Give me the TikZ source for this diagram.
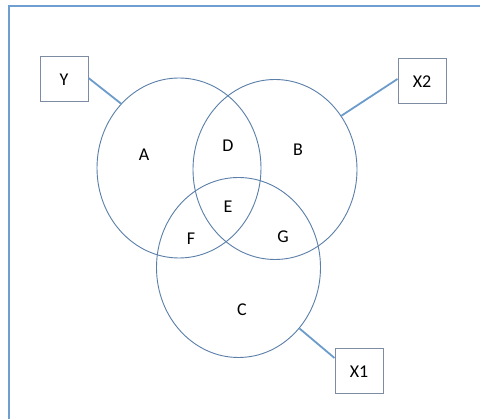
\documentclass[tikz,border=0pt]{standalone}
\usepackage{fontspec}
\setmainfont{Carlito}
\usetikzlibrary{shapes.geometric}
\definecolor{framecol}{HTML}{6F9FD0}
\definecolor{ringcol}{HTML}{5A7FA8}
\definecolor{linkcol}{HTML}{6C9CCB}
\definecolor{boxcol}{HTML}{7D8CA3}
\tikzset{
  ring/.style={draw=ringcol, line width=0.9pt, ellipse, minimum width=164pt, minimum height=180pt, inner sep=0pt},
  tag/.style={draw=boxcol, line width=1pt, minimum width=48pt, minimum height=45pt, inner sep=0pt, font=\fontsize{18}{20}\selectfont},
  region/.style={font=\fontsize{18}{20}\selectfont, inner sep=0pt},
  link/.style={draw=linkcol, line width=1.8pt}
}
\begin{document}
\begin{tikzpicture}[x=1pt, y=-1pt]
  \useasboundingbox (0,0) rectangle (480,419);
  \clip (0,0) rectangle (480,419);
  \fill[white] (0,0) rectangle (480,419);
  % outer frame, running off the right and bottom edges
  \draw[framecol, line width=1.2pt] (9,6) rectangle (486,424);

  % the three sets
  \node[ring] (ca) at (179,168) {};
  \node[ring] (cb) at (275,169.5) {};
  \node[ring] (cc) at (238.5,267.5) {};

  % region labels
  \node[region] (la) at (144,155) {A};
  \node[region] (ld) at (228,146) {D};
  \node[region] (lb) at (298,150) {B};
  \node[region] (le) at (228,207) {E};
  \node[region] (lf) at (191,239) {F};
  \node[region] (lg) at (283,237) {G};
  \node[region] (lc) at (242,310) {C};

  % set tags
  \node[tag] (ty) at (64,79.5) {Y};
  \node[tag] (tx2) at (422,81.5) {X2};
  \node[tag] (tx1) at (359,371.5) {X1};

  % tag connectors
  \draw[link] (ty.east |- 0,78) -- (ca.132);
  \draw[link] (tx2.west |- 0,79) -- (cb.39);
  \draw[link] (tx1.west |- 0,358) -- (cc.-45);
\end{tikzpicture}
\end{document}
